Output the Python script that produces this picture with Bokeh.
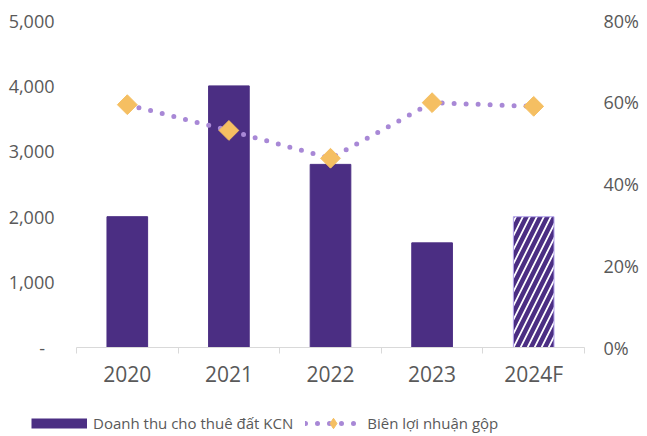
import numpy as np
from bokeh.plotting import figure
from bokeh.layouts import column
from bokeh.models import (Range1d, LinearAxis, FixedTicker,
                          NumeralTickFormatter, Legend, LegendItem, ColumnDataSource)
from bokeh.embed import file_html
from bokeh.resources import INLINE

# ---- data ----
years = ["2020", "2021", "2022", "2023", "2024F"]
revenue = [2000, 4000, 2800, 1600, 2000]            # Doanh thu cho thuê đất KCN
gross_margin = [0.594, 0.531, 0.463, 0.599, 0.590]  # Biên lợi nhuận gộp
is_forecast = [False, False, False, False, True]
left_ticks = [0, 1000, 2000, 3000, 4000, 5000]
right_ticks = [0.0, 0.2, 0.4, 0.6, 0.8]
bar_label = "Doanh thu cho thuê đất KCN"
line_label = "Biên lợi nhuận gộp"

# ---- style ----
BAR = "#4B2E83"
BAR_EDGE = "#B3A3EC"
DOT = "#A888D6"
DIAMOND = "#F5BF62"
TEXT = "#595959"
AXIS = "#D9D9D9"
FONT = "Open Sans"

n = len(years)
xc = [i + 0.5 for i in range(n)]

p = figure(width=647, height=400, x_range=Range1d(0, n), y_range=Range1d(0, 5000),
           output_backend="svg", toolbar_location=None,
           min_border_left=76, min_border_right=63, min_border_top=20, min_border_bottom=53)
p.extra_y_ranges = {"pct": Range1d(0, 0.8)}
p.outline_line_color = None
p.xgrid.visible = False
p.ygrid.visible = False
p.background_fill_color = "white"
p.border_fill_color = "white"

act = ColumnDataSource(dict(x=[x for x, f in zip(xc, is_forecast) if not f],
                            top=[v for v, f in zip(revenue, is_forecast) if not f]))
fc = ColumnDataSource(dict(x=[x for x, f in zip(xc, is_forecast) if f],
                           top=[v for v, f in zip(revenue, is_forecast) if f]))

p.vbar(x="x", top="top", width=0.4, source=act, fill_color=BAR, line_color=BAR)
p.vbar(x="x", top="top", width=0.4, source=fc, fill_color="white", line_color=BAR_EDGE,
       line_width=1, hatch_pattern="/", hatch_color=BAR, hatch_weight=4.5, hatch_scale=14)

p.line(xc, gross_margin, y_range_name="pct", line_color=DOT, line_width=5,
       line_dash="0 12", line_cap="round")
p.scatter(xc, gross_margin, marker="square", angle=np.pi / 4, size=14,
          fill_color=DIAMOND, line_color=DIAMOND, y_range_name="pct")

# ---- axes ----
p.xaxis.ticker = FixedTicker(ticks=xc, minor_ticks=list(range(n + 1)))
p.xaxis.major_label_overrides = {x: y for x, y in zip(xc, years)}
p.xaxis.axis_line_color = AXIS
p.xaxis.major_tick_line_color = None
p.xaxis.major_tick_out = 0
p.xaxis.major_tick_in = 0
p.xaxis.minor_tick_line_color = AXIS
p.xaxis.minor_tick_out = 6
p.xaxis.minor_tick_in = 0
p.xaxis.major_label_standoff = 6
p.xaxis.major_label_text_font = FONT
p.xaxis.major_label_text_font_size = "21px"
p.xaxis.major_label_text_color = TEXT

p.yaxis.ticker = FixedTicker(ticks=left_ticks)
p.yaxis.formatter = NumeralTickFormatter(format="0,0")
p.yaxis.major_label_overrides = {0: "-\u00a0\u00a0"}
p.yaxis.axis_line_color = None
p.yaxis.major_tick_line_color = None
p.yaxis.minor_tick_line_color = None
p.yaxis.major_tick_out = 0
p.yaxis.major_tick_in = 0
p.yaxis.major_label_standoff = 22
p.yaxis.major_label_text_font = FONT
p.yaxis.major_label_text_font_size = "18px"
p.yaxis.major_label_text_color = TEXT

ry = LinearAxis(y_range_name="pct", ticker=FixedTicker(ticks=right_ticks),
                formatter=NumeralTickFormatter(format="0%"))
ry.axis_line_color = None
ry.major_tick_line_color = None
ry.minor_tick_line_color = None
ry.major_tick_out = 0
ry.major_tick_in = 0
ry.major_label_standoff = 19
ry.major_label_text_font = FONT
ry.major_label_text_font_size = "18px"
ry.major_label_text_color = TEXT
p.add_layout(ry, "right")

# ---- legend strip (separate small figure under the chart) ----
# its ranges keep the series out of view: only the legend swatches show
q = figure(width=647, height=36, x_range=Range1d(-2, -1), y_range=Range1d(-2, -1),
           output_backend="svg", toolbar_location=None, x_axis_type=None, y_axis_type=None,
           min_border=0)
q.outline_line_color = None
q.xgrid.visible = False
q.ygrid.visible = False
q.background_fill_color = "white"
q.border_fill_color = "white"
for fig in (p, q):
    try:
        fig.frame_align = False
    except Exception:
        pass

bar_swatch = q.line(xc, revenue, line_color=BAR, line_width=10, line_cap="butt")
dot_swatch = q.line(xc, gross_margin, line_color=DOT, line_width=5, line_dash="0 12",
                    line_cap="round")
diamond_swatch = q.scatter(xc, gross_margin, marker="diamond", fill_color=DIAMOND,
                           line_color=DIAMOND)

lg = Legend(items=[LegendItem(label=bar_label, renderers=[bar_swatch]),
                   LegendItem(label=line_label, renderers=[dot_swatch, diamond_swatch])],
            location=(31, 0), orientation="horizontal")
lg.border_line_color = None
lg.background_fill_alpha = 0
lg.padding = 0
lg.margin = 0
lg.spacing = 12
lg.glyph_width = 56
lg.glyph_height = 26
lg.label_standoff = 6
lg.label_text_font = FONT
lg.label_text_font_size = "15px"
lg.label_text_color = TEXT
q.add_layout(lg, "center")

open("out.html", "w").write(file_html(column(p, q, spacing=0), INLINE))
